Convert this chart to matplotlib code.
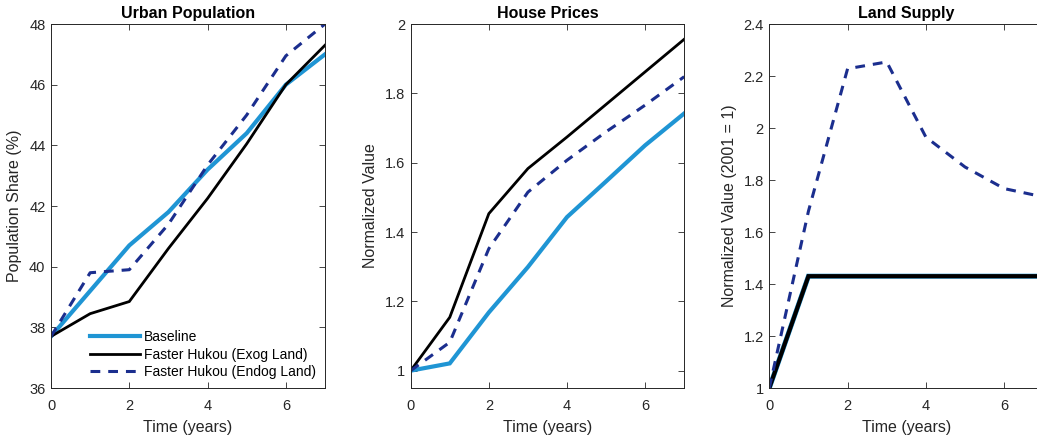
import matplotlib
matplotlib.use("Agg")
import matplotlib.pyplot as plt
from matplotlib.ticker import FormatStrFormatter

plt.rcParams['font.family'] = ['Liberation Sans', 'DejaVu Sans']

# time axis
years = [0, 1, 2, 3, 4, 5, 6, 7]

# Urban population share (%)
pop_baseline = [37.7, 39.2, 40.7, 41.8, 43.2, 44.4, 46.0, 47.0]
pop_exog = [37.7, 38.45, 38.85, 40.6, 42.25, 44.05, 46.0, 47.3]
pop_endog = [37.7, 39.8, 39.9, 41.4, 43.35, 45.0, 46.95, 48.0]

# House prices (normalized)
hp_baseline = [1.0, 1.021, 1.168, 1.299, 1.443, 1.546, 1.650, 1.742]
hp_exog = [1.0, 1.154, 1.453, 1.583, 1.674, 1.768, 1.862, 1.956]
hp_endog = [1.0, 1.082, 1.352, 1.515, 1.607, 1.689, 1.766, 1.848]

# Land supply (2001 = 1)
land_baseline = [1.0, 1.43, 1.43, 1.43, 1.43, 1.43, 1.43, 1.43]
land_exog = [1.0, 1.43, 1.43, 1.43, 1.43, 1.43, 1.43, 1.43]
land_endog = [1.0, 1.68, 2.228, 2.254, 1.965, 1.85, 1.767, 1.735]

labels = ['Baseline', 'Faster Hukou (Exog Land)', 'Faster Hukou (Endog Land)']

c_base = '#1f95d4'
c_exog = '#000000'
c_endog = '#1b2e8e'
ax_col = '#262626'

fig = plt.figure(figsize=(10.37, 4.41), dpi=100)
positions = [
    [51 / 1037, 53 / 441, 274 / 1037, 364 / 441],
    [410.7 / 1037, 53 / 441, 273.5 / 1037, 364 / 441],
    [769.3 / 1037, 53 / 441, 274 / 1037, 364 / 441],
]
axes = [fig.add_axes(p) for p in positions]

panels = [
    (pop_baseline, pop_exog, pop_endog, 'Urban Population', 'Population Share (%)', (36, 48), [36, 38, 40, 42, 44, 46, 48]),
    (hp_baseline, hp_exog, hp_endog, 'House Prices', 'Normalized Value', (0.95, 2.0), [1, 1.2, 1.4, 1.6, 1.8, 2]),
    (land_baseline, land_exog, land_endog, 'Land Supply', 'Normalized Value (2001 = 1)', (1.0, 2.4), [1, 1.2, 1.4, 1.6, 1.8, 2, 2.2, 2.4]),
]

for i, (ax, (b, e, d, title, ylab, ylim, yticks)) in enumerate(zip(axes, panels)):
    lw_b, lw_e = (3.0, 2.0) if i < 2 else (3.6, 3.0)
    ax.plot(years, b, color=c_base, lw=lw_b, label=labels[0], solid_joinstyle='miter')
    ax.plot(years, e, color=c_exog, lw=lw_e, label=labels[1], solid_joinstyle='miter')
    ax.plot(years, d, color=c_endog, lw=2.2, ls=(0, (3.2, 2.6)), label=labels[2])
    ax.set_xlim(0, 7)
    ax.set_ylim(*ylim)
    ax.set_xticks([0, 2, 4, 6])
    ax.set_yticks(yticks)
    ax.yaxis.set_major_formatter(FormatStrFormatter('%g'))
    ax.set_title(title, fontsize=11.5, fontweight='bold', color='black', pad=4)
    ax.set_xlabel('Time (years)', fontsize=11.5, color=ax_col, labelpad=5)
    ax.set_ylabel(ylab, fontsize=11.5, color=ax_col, labelpad=5)
    ax.tick_params(direction='in', top=True, right=True, length=4, width=0.6,
                   colors=ax_col, labelsize=10.5, pad=4)
    ax.tick_params(axis='x', pad=8)
    for s in ax.spines.values():
        s.set_color(ax_col)
        s.set_linewidth(0.7)

axes[0].legend(loc='lower right', bbox_to_anchor=(1.0, 0.0), frameon=False,
               fontsize=10, handlelength=3.6, handletextpad=0.3,
               labelspacing=0.25, borderaxespad=0.25)

fig.savefig('out.png', dpi=100)
